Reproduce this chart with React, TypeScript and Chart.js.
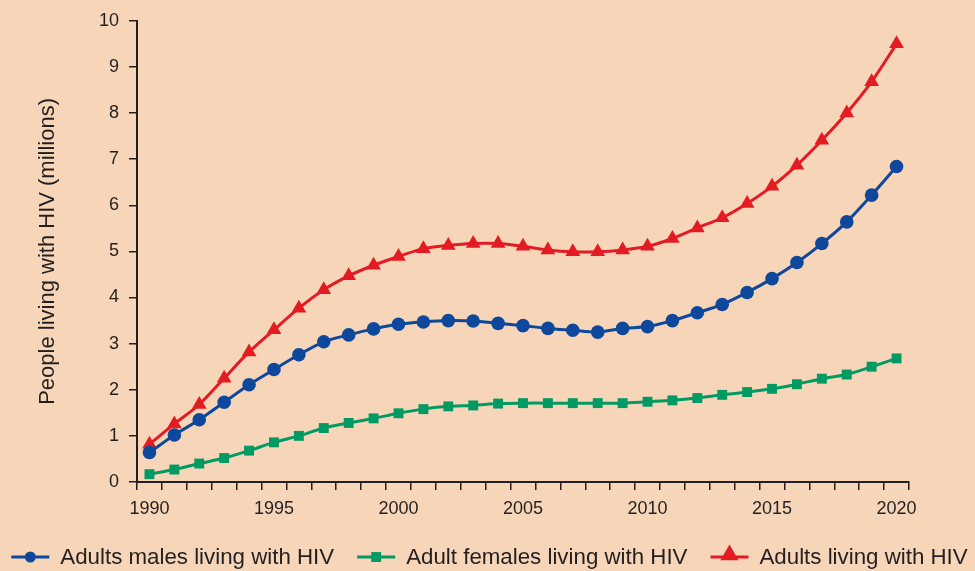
import React, { useEffect, useRef } from "react";
import { Chart, registerables } from "chart.js";

Chart.register(...registerables);

const years: string[] = [];
for (let y = 1990; y <= 2020; y++) years.push(String(y));

const males = [0.64, 1.02, 1.35, 1.73, 2.11, 2.44, 2.76, 3.04, 3.19, 3.32, 3.42, 3.47, 3.50, 3.49, 3.44, 3.39, 3.33, 3.29, 3.25, 3.33, 3.37, 3.50, 3.67, 3.85, 4.11, 4.41, 4.76, 5.17, 5.64, 6.22, 6.84];
const females = [0.17, 0.27, 0.40, 0.52, 0.68, 0.86, 1.00, 1.17, 1.28, 1.38, 1.49, 1.58, 1.64, 1.66, 1.70, 1.71, 1.71, 1.71, 1.71, 1.71, 1.74, 1.77, 1.82, 1.89, 1.95, 2.02, 2.12, 2.24, 2.33, 2.50, 2.68];
const adults = [0.82, 1.26, 1.68, 2.25, 2.82, 3.30, 3.77, 4.17, 4.47, 4.70, 4.89, 5.06, 5.13, 5.17, 5.17, 5.11, 5.03, 4.99, 4.99, 5.03, 5.11, 5.28, 5.51, 5.73, 6.04, 6.41, 6.87, 7.41, 8.00, 8.68, 9.50];

const seriesNames = ["Adults males living with HIV", "Adult females living with HIV", "Adults living with HIV"];
const seriesColors = ["#0E489C", "#009A62", "#E31B23"];
const seriesPoints = ["circle", "rect", "triangle"];
const seriesRadius = [6.8, 7, 8.5];
const legendRadius = [5.5, 7, 10.5];
const yTitle = "People living with HIV (millions)";

const TEXT = "#231F20";
const BG = "#F7D5B8";
const FONT = "'Liberation Sans', Arial, Helvetica, sans-serif";

function drawMarker(ctx: CanvasRenderingContext2D, style: string, x: number, y: number, r: number) {
  ctx.beginPath();
  if (style === "circle") {
    ctx.arc(x, y, r, 0, Math.PI * 2);
  } else if (style === "rect") {
    const s = r * Math.SQRT1_2;
    ctx.rect(x - s, y - s, 2 * s, 2 * s);
  } else {
    const a = -Math.PI / 2;
    for (let k = 0; k < 3; k++) {
      const ang = a + (k * 2 * Math.PI) / 3;
      const px = x + Math.cos(ang) * r;
      const py = y + Math.sin(ang) * r;
      if (k === 0) ctx.moveTo(px, py);
      else ctx.lineTo(px, py);
    }
    ctx.closePath();
  }
  ctx.fill();
}

const legendPlugin = {
  id: "customLegend",
  afterDraw(chart: any) {
    const ctx = chart.ctx;
    ctx.save();
    ctx.font = `22.3px ${FONT}`;
    ctx.textBaseline = "middle";
    ctx.textAlign = "left";
    const lineLen = 38;
    const textGap = 11;
    const itemGap = 23;
    const widths = seriesNames.map((n) => lineLen + textGap + ctx.measureText(n).width);
    const total = widths.reduce((a, b) => a + b, 0) + itemGap * (seriesNames.length - 1);
    let x = (chart.width - total) / 2 + 2;
    const y = 557;
    seriesNames.forEach((name, i) => {
      ctx.strokeStyle = seriesColors[i];
      ctx.lineWidth = 3;
      ctx.beginPath();
      ctx.moveTo(x, y);
      ctx.lineTo(x + lineLen, y);
      ctx.stroke();
      ctx.fillStyle = seriesColors[i];
      const my = seriesPoints[i] === "triangle" ? y - 2 : y;
      drawMarker(ctx, seriesPoints[i], x + lineLen / 2, my, legendRadius[i]);
      ctx.fillStyle = TEXT;
      ctx.fillText(name, x + lineLen + textGap, y + 1);
      x += widths[i] + itemGap;
    });
    ctx.restore();
  },
};

const bgPlugin = {
  id: "bg",
  beforeDraw(chart: any) {
    const ctx = chart.ctx;
    ctx.save();
    ctx.fillStyle = BG;
    ctx.fillRect(0, 0, chart.width, chart.height);
    ctx.restore();
  },
};

export default function App() {
  const ref = useRef<HTMLCanvasElement>(null);
  useEffect(() => {
    document.body.style.margin = "0";
    const data = [males, females, adults];
    const chart = new Chart(ref.current!, {
      type: "line",
      data: {
        labels: years,
        datasets: data.map((d, i) => ({
          label: seriesNames[i],
          data: d,
          borderColor: seriesColors[i],
          backgroundColor: seriesColors[i],
          borderWidth: 3,
          pointStyle: seriesPoints[i] as any,
          pointRadius: seriesRadius[i],
          pointBorderWidth: 0,
          tension: 0.3,
          clip: false as any,
        })),
      },
      options: {
        animation: false,
        responsive: false,
        maintainAspectRatio: false,
        layout: { padding: { top: 16, right: 66, bottom: 49, left: 0 } },
        plugins: { legend: { display: false }, tooltip: { enabled: false } },
        scales: {
          x: {
            type: "category",
            offset: true,
            grid: {
              offset: true,
              drawOnChartArea: false,
              drawTicks: true,
              tickLength: 8,
              color: TEXT,
              lineWidth: 1.5,
            },
            border: { display: true, color: TEXT, width: 2 },
            ticks: {
              autoSkip: false,
              maxRotation: 0,
              minRotation: 0,
              padding: 8,
              color: TEXT,
              font: { family: FONT, size: 18 },
              callback: (_v: any, idx: number) => (Number(years[idx]) % 5 === 0 ? years[idx] : ""),
            },
            afterFit: (s: any) => {
              s.height = 40;
            },
          },
          y: {
            min: 0,
            max: 10,
            grid: {
              drawOnChartArea: false,
              drawTicks: true,
              tickLength: 8,
              color: TEXT,
              lineWidth: 1.5,
            },
            border: { display: true, color: TEXT, width: 2 },
            ticks: {
              stepSize: 1,
              padding: 10,
              color: TEXT,
              font: { family: FONT, size: 18 },
            },
            title: {
              display: true,
              text: yTitle,
              color: TEXT,
              font: { family: FONT, size: 22 },
              padding: { top: 35, bottom: 0 },
            },
            afterFit: (s: any) => {
              s.width = 137;
            },
          },
        },
      },
      plugins: [bgPlugin, legendPlugin],
    });
    return () => chart.destroy();
  }, []);
  return (
    <div style={{ position: "fixed", left: 0, top: 0, width: 975, height: 571 }}>
      <canvas ref={ref} width={975} height={571} style={{ width: 975, height: 571, display: "block" }} />
    </div>
  );
}
